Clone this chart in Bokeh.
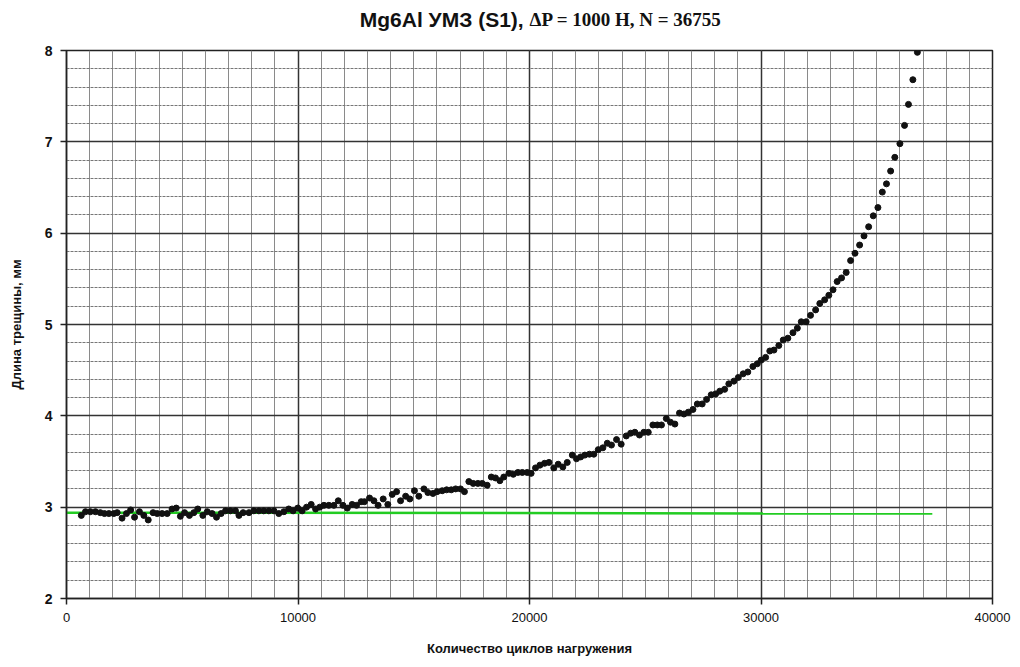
from bokeh.plotting import figure
from bokeh.layouts import column
from bokeh.models import SingleIntervalTicker, Range1d, ColumnDataSource
from bokeh.core.properties import value
from bokeh.embed import file_html
from bokeh.resources import INLINE

# Data (cycles, crack length in mm)
cycles = [
    640, 820, 1030, 1250, 1460, 1640, 1830, 2040, 2190, 2400,
    2590, 2770, 2940, 3150, 3340, 3530, 3740, 3920, 4130, 4350,
    4560, 4740, 4920, 5100, 5310, 5500, 5670, 5890, 6080, 6290,
    6480, 6680, 6870, 7080, 7300, 7450, 7630, 7880, 8090, 8310,
    8520, 8740, 8960, 9170, 9390, 9600, 9790, 9990, 10180, 10370,
    10570, 10760, 10940, 11120, 11330, 11550, 11740, 11940, 12130, 12340,
    12530, 12730, 12870, 13090, 13280, 13460, 13680, 13880, 14070, 14260,
    14430, 14650, 14830, 15030, 15220, 15440, 15610, 15830, 16010, 16230,
    16420, 16620, 16810, 17020, 17190, 17380, 17570, 17770, 17960, 18170,
    18350, 18530, 18720, 18890, 19110, 19300, 19500, 19690, 19900, 20070,
    20260, 20450, 20650, 20840, 21050, 21240, 21440, 21630, 21850, 22030,
    22210, 22390, 22590, 22780, 22970, 23170, 23360, 23540, 23760, 23960,
    24180, 24370, 24550, 24750, 24940, 25130, 25330, 25520, 25700, 25910,
    26090, 26280, 26480, 26670, 26860, 27060, 27250, 27460, 27650, 27850,
    28040, 28220, 28430, 28610, 28830, 29020, 29230, 29430, 29650, 29840,
    30010, 30200, 30380, 30560, 30770, 30960, 31160, 31380, 31570, 31740,
    31950, 32140, 32360, 32540, 32750, 32930, 33110, 33290, 33480, 33680,
    33870, 34060, 34260, 34450, 34650, 34850, 35050, 35240, 35420, 35600,
    35780, 36000, 36200, 36370, 36560, 36755,
]
crack_mm = [
    2.91, 2.95, 2.95, 2.95, 2.94, 2.93, 2.93, 2.93, 2.94, 2.88,
    2.93, 2.97, 2.89, 2.95, 2.91, 2.86, 2.94, 2.93, 2.93, 2.93,
    2.98, 2.99, 2.90, 2.94, 2.91, 2.94, 2.98, 2.91, 2.95, 2.93,
    2.89, 2.93, 2.96, 2.96, 2.96, 2.91, 2.94, 2.94, 2.96, 2.96,
    2.96, 2.96, 2.96, 2.93, 2.95, 2.98, 2.96, 2.99, 2.96, 3.00,
    3.03, 2.98, 3.00, 3.02, 3.02, 3.02, 3.07, 3.02, 2.99, 3.03,
    3.02, 3.06, 3.06, 3.10, 3.07, 3.02, 3.09, 3.03, 3.14, 3.17,
    3.07, 3.12, 3.09, 3.18, 3.12, 3.20, 3.16, 3.15, 3.17, 3.18,
    3.19, 3.19, 3.20, 3.20, 3.17, 3.28, 3.26, 3.26, 3.26, 3.24,
    3.33, 3.32, 3.29, 3.33, 3.37, 3.36, 3.38, 3.38, 3.38, 3.37,
    3.43, 3.46, 3.48, 3.49, 3.43, 3.47, 3.44, 3.49, 3.57, 3.53,
    3.55, 3.57, 3.58, 3.58, 3.63, 3.65, 3.70, 3.68, 3.74, 3.69,
    3.78, 3.81, 3.82, 3.79, 3.82, 3.82, 3.90, 3.90, 3.90, 3.97,
    3.93, 3.91, 4.03, 4.02, 4.04, 4.07, 4.13, 4.13, 4.18, 4.23,
    4.24, 4.27, 4.29, 4.35, 4.38, 4.42, 4.46, 4.48, 4.54, 4.57,
    4.61, 4.64, 4.71, 4.72, 4.77, 4.83, 4.85, 4.91, 4.96, 5.03,
    5.03, 5.10, 5.16, 5.23, 5.27, 5.32, 5.38, 5.47, 5.51, 5.57,
    5.70, 5.78, 5.87, 5.97, 6.07, 6.19, 6.28, 6.45, 6.54, 6.68,
    6.83, 6.98, 7.18, 7.41, 7.68, 7.98,
]
# Green reference line
green_x = [0, 37400]
green_y = [2.94, 2.93]

title_part1 = "Mg6Al УМЗ (S1), "
title_part2 = "ΔP = 1000 H, N = 36755"
x_label = "Количество циклов нагружения"
y_label = "Длина трещины, мм"

# --- title strip (separate small figure so the two title fonts can sit on one line)
TH = 38
t = figure(width=1020, height=TH, output_backend="svg", toolbar_location=None,
           x_range=Range1d(0, 1020), y_range=Range1d(0, TH),
           min_border=0, outline_line_color=None)
t.axis.visible = False
t.grid.visible = False
t.text(x=[510], y=[TH - 19], text=[title_part1], text_align="right", text_baseline="middle",
       text_font=value("Liberation Sans"), text_font_style="bold", text_font_size="21px",
       text_color="#111111")
t.text(x=[510], y=[TH - 19], text=[title_part2], text_align="left", text_baseline="middle",
       text_font=value("Liberation Serif"), text_font_style="bold", text_font_size="19px",
       text_color="#111111")

# --- main chart
p = figure(width=1020, height=667 - TH, output_backend="svg", toolbar_location=None,
           x_range=Range1d(0, 40000), y_range=Range1d(2, 8),
           min_border_left=66, min_border_right=28, min_border_top=50 - TH, min_border_bottom=69)
p.background_fill_color = "white"
p.border_fill_color = "white"
p.outline_line_color = "#222222"
p.outline_line_width = 1.5

p.xaxis.ticker = SingleIntervalTicker(interval=10000, num_minor_ticks=10)
p.yaxis.ticker = SingleIntervalTicker(interval=1, num_minor_ticks=5)

for ax in (p.xaxis[0], p.yaxis[0]):
    ax.axis_line_color = "#222222"
    ax.axis_line_width = 1.5
    ax.major_tick_line_color = "#222222"
    ax.major_tick_line_width = 1.5
    ax.major_tick_out = 6
    ax.major_tick_in = 0
    ax.minor_tick_line_color = None
    ax.major_label_text_color = "#111111"
    ax.major_label_text_font = "Liberation Sans"
    ax.major_label_text_font_size = "13px"
    ax.axis_label_text_font = "Liberation Sans"
    ax.axis_label_text_font_style = "bold"
    ax.axis_label_text_font_size = "13px"
    ax.axis_label_text_color = "#111111"

p.xaxis.axis_label = x_label
p.yaxis.axis_label = y_label
p.yaxis.major_label_text_font_style = "bold"
p.yaxis.major_label_text_font_size = "14px"
p.yaxis.major_label_standoff = 8
p.xaxis.major_label_standoff = 8
p.xaxis.axis_label_standoff = 16
p.yaxis.axis_label_standoff = 18

p.xgrid.grid_line_color = "#333333"
p.xgrid.grid_line_width = 1.5
p.ygrid.grid_line_color = "#333333"
p.ygrid.grid_line_width = 1.5
p.xgrid.minor_grid_line_color = "#8a8a8a"
p.xgrid.minor_grid_line_width = 1
p.ygrid.minor_grid_line_color = "#777777"
p.ygrid.minor_grid_line_width = 1
p.ygrid.minor_grid_line_dash = "3 1"

p.line(green_x, green_y, line_color="#22cc22", line_width=2.5)
src = ColumnDataSource(dict(x=cycles, y=crack_mm))
p.scatter("x", "y", source=src, size=6, fill_color="#111111", line_color="#111111")

layout = column(t, p, spacing=0)
open("out.html", "w").write(file_html(layout, INLINE))
